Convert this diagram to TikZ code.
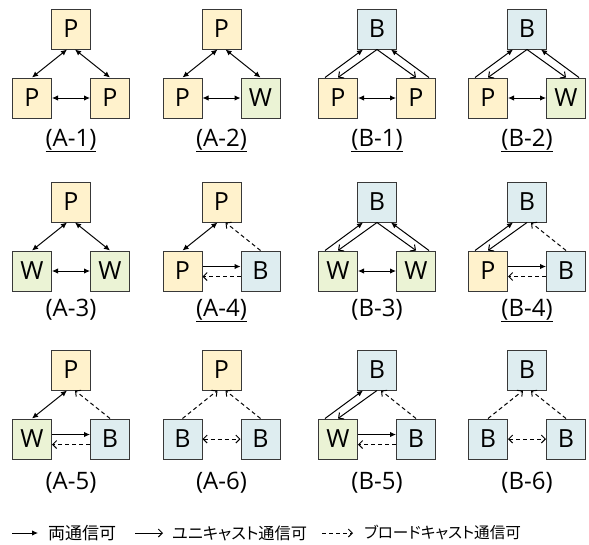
\documentclass[tikz,border=0pt]{standalone}
\usepackage{fontspec}
\setmainfont{Open Sans}
\newfontfamily\jpfont[RawFeature=+palt]{Noto Sans CJK JP}
\usetikzlibrary{arrows.meta}
\definecolor{fillP}{HTML}{FFF2CC}
\definecolor{fillW}{HTML}{EBF3D5}
\definecolor{fillB}{HTML}{DEEDF0}
\definecolor{edgegray}{HTML}{383838}
\tikzset{
  box/.style={draw=edgegray, line width=1pt, minimum width=39pt, minimum height=40pt, inner sep=0pt, font=\fontsize{25}{25}\selectfont},
  boxP/.style={box, fill=fillP},
  boxW/.style={box, fill=fillW},
  boxB/.style={box, fill=fillB},
  conn/.style={line width=1pt, black},
  bothtip/.style={-{Latex[length=6pt,width=5.5pt]}},
  dbl/.style={{Latex[length=6pt,width=5.5pt]}-{Latex[length=6pt,width=5.5pt]}},
  uni/.style={-{Straight Barb[length=4pt,width=8pt]}},
  bcast/.style={dash pattern=on 4pt off 3pt, -{Straight Barb[length=4pt,width=8pt]}},
  bcastdbl/.style={dash pattern=on 4pt off 3pt, {Straight Barb[length=4pt,width=8pt]}-{Straight Barb[length=4pt,width=8pt]}},
  lbl/.style={font=\fontsize{24}{24}\selectfont, inner sep=0pt, anchor=base},
  legtext/.style={font=\jpfont\fontsize{17}{17}\selectfont, anchor=west, inner sep=0pt}
}
% id, cx, ytop, ybot, T, L, R
\newcommand\mkpanel[7]{%
  \node[box#5] (#1t) at (#2,#3) {#5};
  \node[box#6] (#1l) at ({#2-39},#4) {#6};
  \node[box#7] (#1r) at ({#2+39},#4) {#7};
}
\newcommand\leftdbl[1]{\draw[conn,dbl] ([xshift=-4pt]#1t.south) -- (#1l.north);}
\newcommand\rightdbl[1]{\draw[conn,dbl] ([xshift=4pt]#1t.south) -- (#1r.north);}
\newcommand\leftpair[1]{%
  \draw[conn,bothtip] ([xshift=-13pt]#1l.north) -- ([xshift=-14pt]#1t.south);
  \draw[conn,uni] (#1t.south) -- (#1l.north);}
\newcommand\rightpair[1]{%
  \draw[conn,bothtip] ([xshift=13pt]#1r.north) -- ([xshift=14pt]#1t.south);
  \draw[conn,uni] (#1t.south) -- (#1r.north);}
\newcommand\leftbc[1]{\draw[conn,bcast] (#1l.north) -- ([xshift=-4pt]#1t.south);}
\newcommand\rightbc[1]{\draw[conn,bcast] (#1r.north) -- ([xshift=4pt]#1t.south);}
\newcommand\hdbl[1]{\draw[conn,dbl] (#1l.east) -- (#1r.west);}
\newcommand\hmixed[1]{%
  \draw[conn,bothtip] ([yshift=4.5pt]#1l.east) -- ([yshift=4.5pt]#1r.west);
  \draw[conn,bcast] ([yshift=-5.5pt]#1r.west) -- ([yshift=-5.5pt]#1l.east);}
\newcommand\hbcdbl[1]{\draw[conn,bcastdbl] (#1l.east) -- (#1r.west);}
\begin{document}
\begin{tikzpicture}[x=1pt,y=-1pt]
\useasboundingbox (0,0) rectangle (589,544);
% ---------- row 1
\mkpanel{a1}{71}{29}{98}{P}{P}{P}
\mkpanel{a2}{221.5}{29}{98}{P}{P}{W}
\mkpanel{b1}{377}{29}{98}{B}{P}{P}
\mkpanel{b2}{527}{29}{98}{B}{P}{W}
\leftdbl{a1}\rightdbl{a1}\hdbl{a1}
\leftdbl{a2}\rightdbl{a2}\hdbl{a2}
\leftpair{b1}\rightpair{b1}\hdbl{b1}
\leftpair{b2}\rightpair{b2}\hdbl{b2}
\node[lbl] (la1) at (71,146) {\underline{(A-1)}};
\node[lbl] (la2) at (221.5,146) {\underline{(A-2)}};
\node[lbl] (lb1) at (377,146) {\underline{(B-1)}};
\node[lbl] (lb2) at (527,146) {\underline{(B-2)}};
% ---------- row 2
\mkpanel{a3}{71}{202}{271}{P}{W}{W}
\mkpanel{a4}{221.5}{202}{271}{P}{P}{B}
\mkpanel{b3}{377}{202}{271}{B}{W}{W}
\mkpanel{b4}{527}{202}{271}{B}{P}{B}
\leftdbl{a3}\rightdbl{a3}\hdbl{a3}
\leftdbl{a4}\rightbc{a4}\hmixed{a4}
\leftpair{b3}\rightpair{b3}\hdbl{b3}
\leftpair{b4}\rightbc{b4}\hmixed{b4}
\node[lbl] (la3) at (71,316) {(A-3)};
\node[lbl] (la4) at (221.5,316) {\underline{(A-4)}};
\node[lbl] (lb3) at (377,316) {(B-3)};
\node[lbl] (lb4) at (527,316) {\underline{(B-4)}};
% ---------- row 3
\mkpanel{a5}{71}{370}{439}{P}{W}{B}
\mkpanel{a6}{221.5}{370}{439}{P}{B}{B}
\mkpanel{b5}{377}{370}{439}{B}{W}{B}
\mkpanel{b6}{527}{370}{439}{B}{B}{B}
\leftdbl{a5}\rightbc{a5}\hmixed{a5}
\leftbc{a6}\rightbc{a6}\hbcdbl{a6}
\leftpair{b5}\rightbc{b5}\hmixed{b5}
\leftbc{b6}\rightbc{b6}\hbcdbl{b6}
\node[lbl] (la5) at (71,489) {(A-5)};
\node[lbl] (la6) at (221.5,489) {(A-6)};
\node[lbl] (lb5) at (377,489) {(B-5)};
\node[lbl] (lb6) at (527,489) {(B-6)};
% ---------- legend
\coordinate (lg1s) at (12,533);
\coordinate (lg1e) at (38,533);
\coordinate (lg2s) at (135,533);
\coordinate (lg2e) at (163,533);
\coordinate (lg3s) at (322,533);
\coordinate (lg3e) at (353,533);
\draw[conn,bothtip] (lg1s) -- (lg1e);
\draw[conn,uni] (lg2s) -- (lg2e);
\draw[conn,bcast] (lg3s) -- (lg3e);
\node[legtext] (lt1) at (48,533) {両通信可};
\node[legtext, font=\jpfont\fontsize{16.2}{16.2}\selectfont] (lt2) at (172,533) {ユニキャスト通信可};
\node[legtext, font=\jpfont\fontsize{15.6}{15.6}\selectfont] (lt3) at (364,533) {ブロードキャスト通信可};
\end{tikzpicture}
\end{document}
